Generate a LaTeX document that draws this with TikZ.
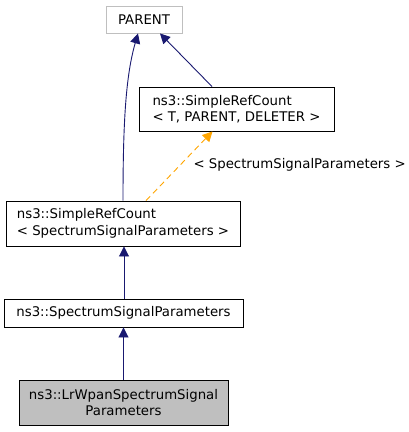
\documentclass[tikz,border=0pt]{standalone}
\usepackage{fontspec}
\setmainfont{DejaVu Sans}
\usetikzlibrary{arrows.meta}
\definecolor{edgeblue}{HTML}{191970}
\definecolor{edgeorange}{HTML}{FFA500}
\definecolor{boxgrey}{HTML}{BFBFBF}

\begin{document}
\begin{tikzpicture}[x=1pt,y=-1pt,
  font=\fontsize{13.3}{16.5}\selectfont,
  box/.style={draw=black,line width=0.9pt,fill=white,inner sep=0pt,align=left},
  inh/.style={edgeblue,line width=0.9pt,-{Triangle[length=10pt,width=10pt]}},
  tmpl/.style={edgeorange,line width=0.9pt,dashed,dash pattern=on 6pt off 4pt,
    -{Triangle[length=10pt,width=10pt]}}]
  \useasboundingbox (0,0) rectangle (409,432);
  % classes
  \node[box,draw=boxgrey,minimum width=76pt,minimum height=27pt] (parent) at (144,19.5) {PARENT};
  \node[box,minimum width=195pt,minimum height=44pt] (srct) at (236.5,109)
    {ns3::SimpleRefCount\\< T, PARENT, DELETER >};
  \node[box,minimum width=234pt,minimum height=45pt] (srcs) at (123,223.5)
    {ns3::SimpleRefCount\\< SpectrumSignalParameters >};
  \node[box,minimum width=239pt,minimum height=28pt] (ssp) at (123.5,313)
    {ns3::SpectrumSignalParameters};
  \node[box,fill=boxgrey,align=center,minimum width=209pt,minimum height=45pt] (lrw) at (123.5,402.5)
    {ns3::LrWpanSpectrumSignal\\Parameters};
  % inheritance
  \draw[inh] ([xshift=0pt]srcs.north) .. controls (123,120) and (126,75) .. ([xshift=-6pt]parent.south);
  \draw[inh] ([xshift=-24.5pt]srct.north) -- ([xshift=16pt]parent.south);
  \draw[tmpl] ([xshift=23pt]srcs.north) -- ([xshift=-24pt]srct.south);
  \node[anchor=west] (targ) at (190,165) {< SpectrumSignalParameters >};
  \draw[inh] ([xshift=0.5pt]ssp.north) -- ([xshift=1pt]srcs.south);
  \draw[inh] (lrw.north) -- (ssp.south);
\end{tikzpicture}
\end{document}
